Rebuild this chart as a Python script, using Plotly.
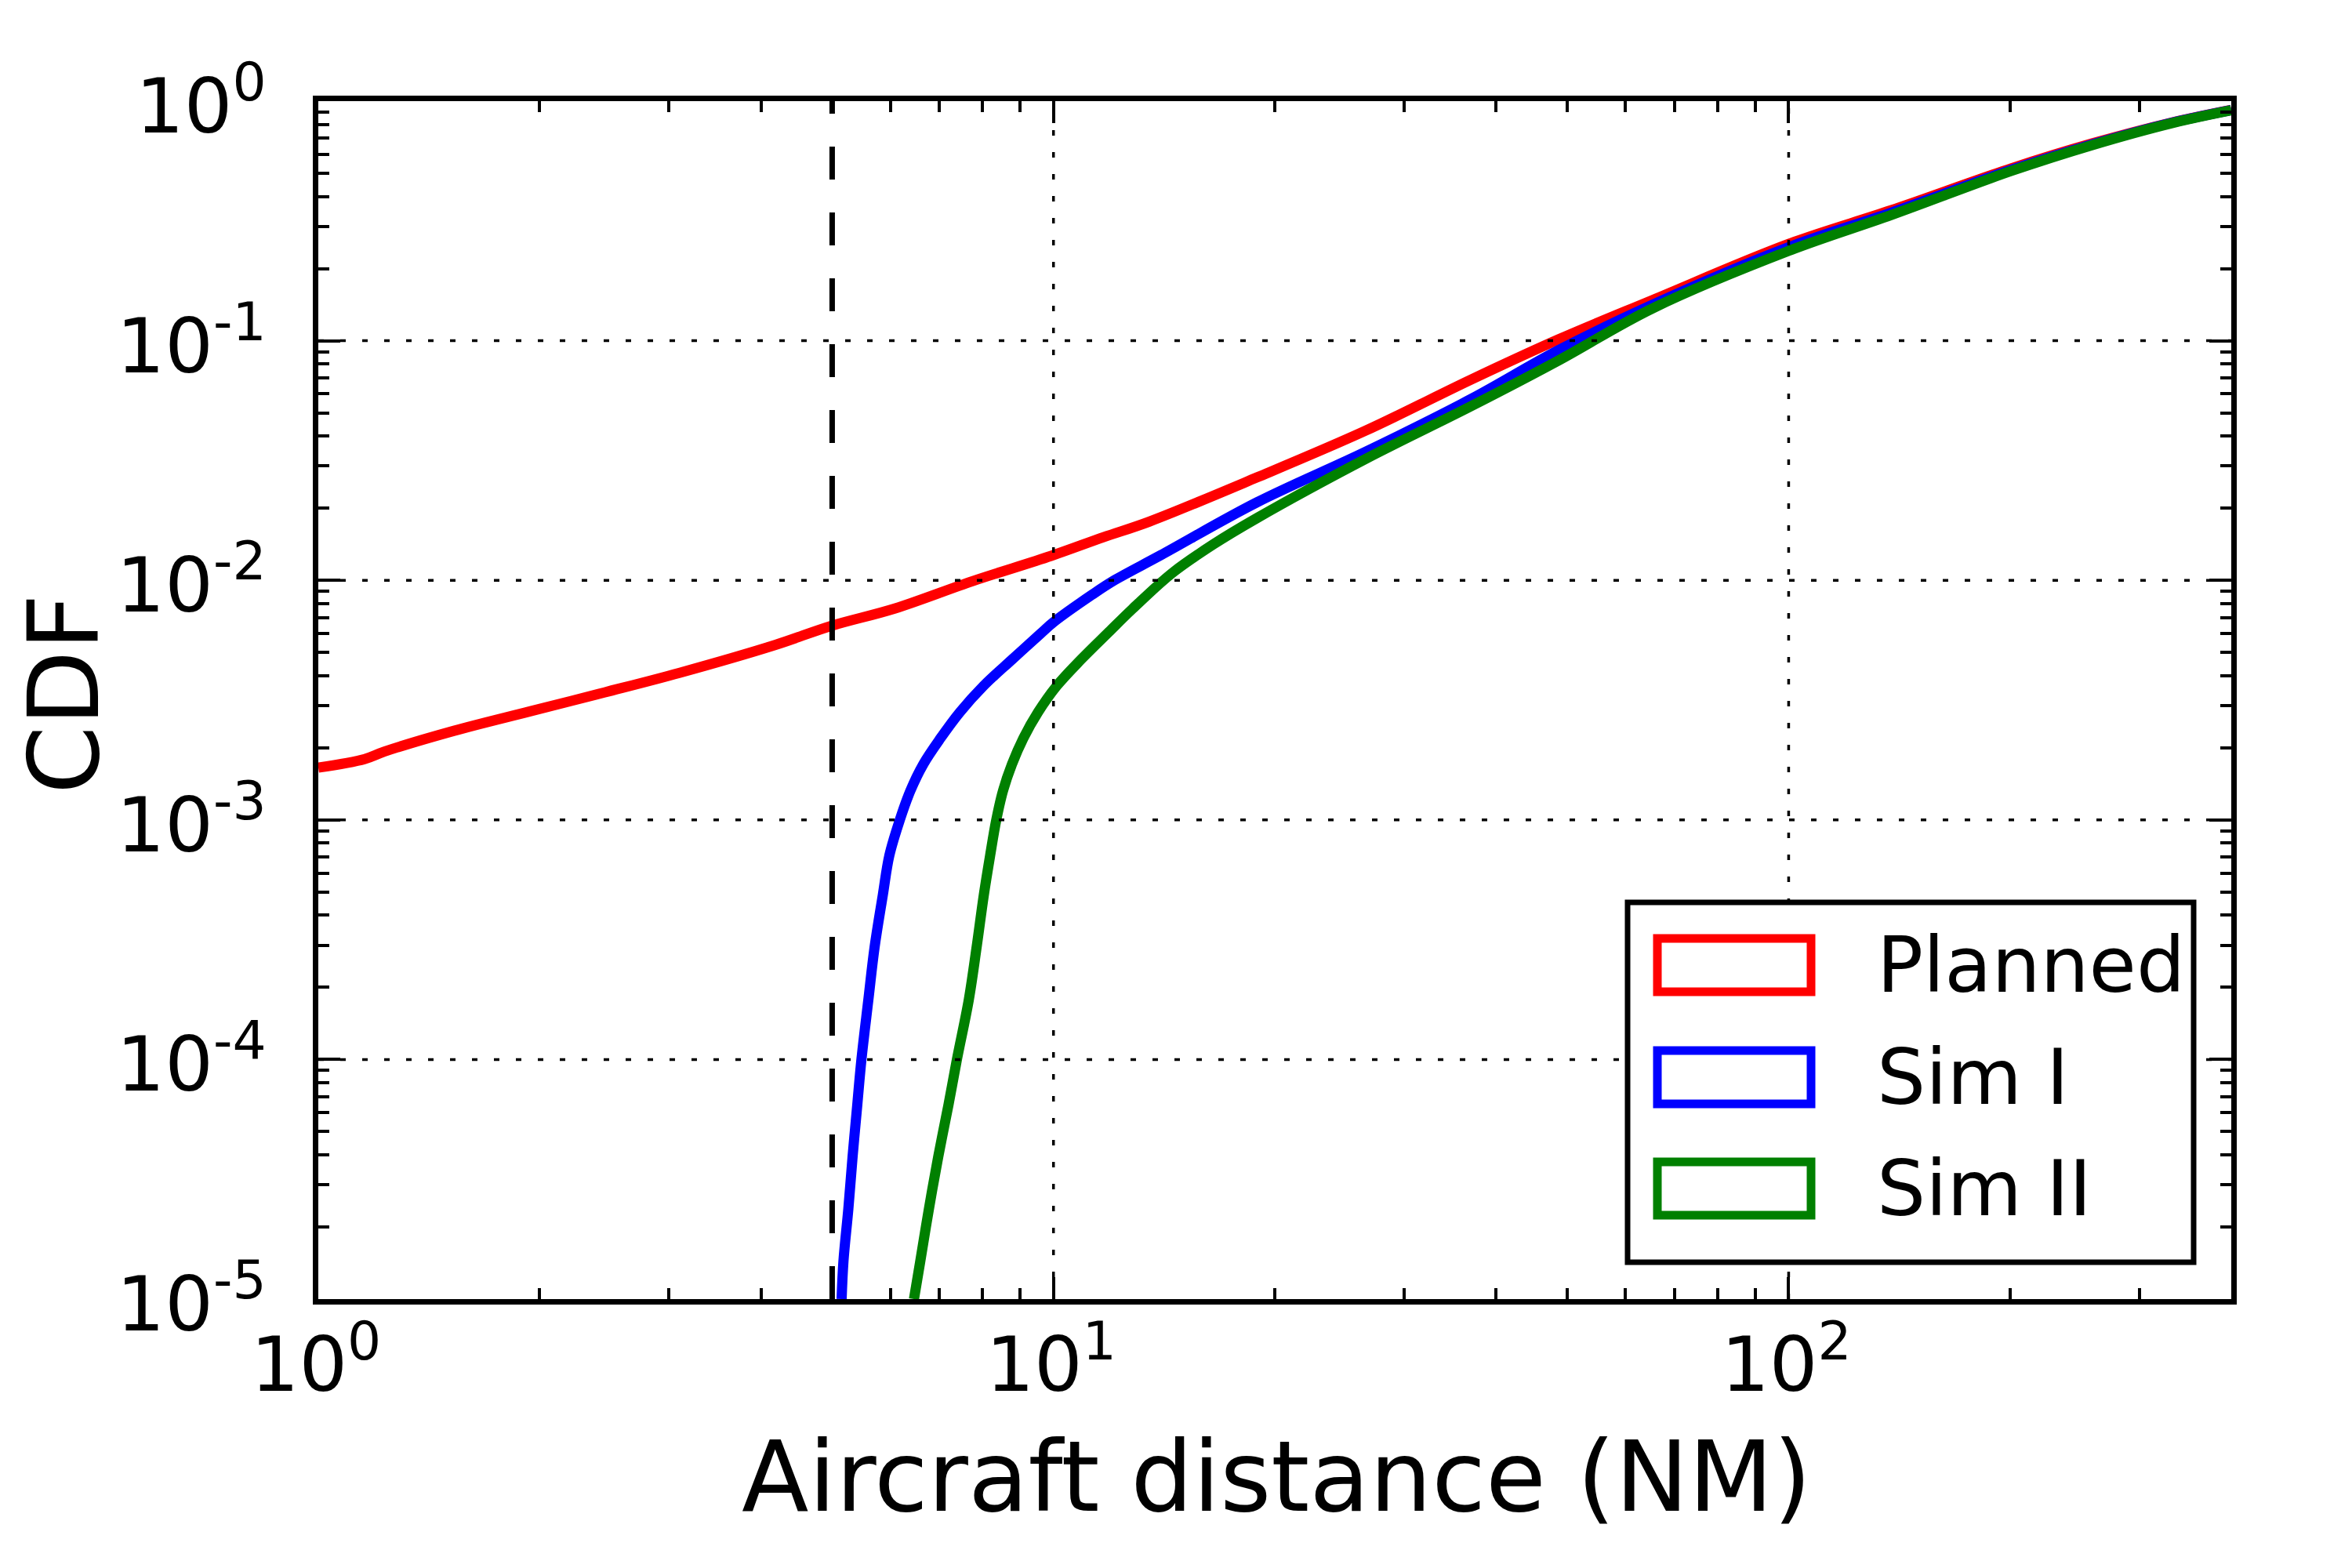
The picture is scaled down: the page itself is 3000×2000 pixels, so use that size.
import math
import plotly.graph_objects as go

# ---------------- data ----------------
planned_x = [1.0, 1.156, 1.23, 1.53, 1.94, 2.45, 3.10, 4.18, 4.99, 6.08, 7.77, 9.93,
             11.7, 13.5, 18.9, 26.6, 37.0, 48.6, 65.3, 100, 138, 201, 259, 332, 400]
planned_y = [0.001652, 0.001795, 0.001928, 0.002355, 0.002838, 0.003404, 0.004111,
             0.005370, 0.006457, 0.007621, 0.009931, 0.01265, 0.01514, 0.01758,
             0.02685, 0.04217, 0.06887, 0.1012, 0.1479, 0.2535, 0.3508, 0.5248,
             0.6668, 0.8147, 0.9204]

sim1_x = [5.15, 5.18, 5.26, 5.33, 5.41, 5.48, 5.6, 5.71, 5.86, 5.98, 6.18, 6.39, 6.65,
          7.02, 7.46, 8.03, 8.78, 9.6, 10.0, 11.3, 12.1, 14.0, 18.9, 26.6, 37.0,
          48.6, 65.3, 100, 138, 201, 259, 332, 400]
sim1_y = [1.0e-5, 1.442e-5, 2.382e-5, 3.926e-5, 6.501e-5, 1.0e-4, 1.774e-4, 2.938e-4,
          4.864e-4, 7.096e-4, 1.0e-3, 1.327e-3, 1.706e-3, 2.193e-3, 2.818e-3, 3.622e-3,
          4.667e-3, 5.984e-3, 6.683e-3, 8.730e-3, 1.0e-2, 0.01274, 0.02113,
          0.03443, 0.05715, 0.09120, 0.1413, 0.2455, 0.3428, 0.5176, 0.6607, 0.8128,
          0.9183]

sim2_x = [6.46, 6.59, 6.77, 6.97, 7.2, 7.39, 7.67, 7.86, 8.04, 8.2, 8.36, 8.54, 8.78,
          9.1, 9.53, 10.1, 10.9, 11.9, 12.8, 14.5, 16.5, 18.9, 26.6, 37.0, 48.6, 65.3,
          100, 138, 201, 259, 332, 400]
sim2_y = [1.0e-5, 1.442e-5, 2.382e-5, 3.926e-5, 6.501e-5, 1.0e-4, 1.774e-4, 2.938e-4,
          4.864e-4, 7.096e-4, 1.0e-3, 1.327e-3, 1.706e-3, 2.193e-3, 2.818e-3, 3.622e-3,
          4.667e-3, 6.095e-3, 7.586e-3, 0.01072, 0.01413, 0.01816, 0.03214, 0.05333,
          0.08260, 0.1365, 0.2371, 0.3350, 0.5117, 0.6561, 0.8091, 0.9162]

threshold_x = [5, 5]
threshold_y = [1e-5, 1]

series_names = ["Planned", "Sim I", "Sim II"]
series_colors = ["#ff0000", "#0000ff", "#008000"]

x_tick_vals = [1, 10, 100]
x_tick_text = ["10<sup>0</sup>", "10<sup>1</sup>", "10<sup>2</sup>"]
y_tick_vals = [1e-5, 1e-4, 1e-3, 1e-2, 1e-1, 1]
y_tick_text = ["10<sup>-5</sup>", "10<sup>-4</sup>", "10<sup>-3</sup>",
               "10<sup>-2</sup>", "10<sup>-1</sup>", "10<sup>0</sup>"]
x_minor_vals = [m * d for d in (1, 10, 100) for m in range(2, 10) if m * d <= 400]
y_minor_vals = [m * d for d in (1e-5, 1e-4, 1e-3, 1e-2, 1e-1) for m in range(2, 10)]

x_range_log = [0, math.log10(400)]
y_range_log = [-5, 0]

x_label = "Aircraft distance (NM)"
y_label = "CDF"

# ---------------- layout geometry (pixels) ----------------
W, H = 3000, 2000
PL, PR, PT, PB = 398, 2838, 121, 1649
FONT = "DejaVu Sans"
GRID_DASH = "7px,21px"


def px2paper_x(px):
    return (px - PL) / (PR - PL)


def px2paper_y(py):
    return (PB - py) / (PB - PT)


fig = go.Figure()
for xs, ys, name, col in zip([planned_x, sim1_x, sim2_x],
                             [planned_y, sim1_y, sim2_y],
                             series_names, series_colors):
    fig.add_trace(go.Scatter(x=xs, y=ys, mode="lines", name=name,
                             line=dict(color=col, width=13, shape="spline", smoothing=1.0),
                             showlegend=False))

fig.add_trace(go.Scatter(x=threshold_x, y=threshold_y, mode="lines",
                         line=dict(color="black", width=7, dash="42px,42px"),
                         showlegend=False, hoverinfo="skip"))

axis_common = dict(
    type="log", showline=True, linewidth=7, linecolor="black", mirror="ticks",
    ticks="inside", ticklen=28, tickwidth=3.5, tickcolor="black",
    tickmode="array", showgrid=False, zeroline=False, automargin=False,
    tickfont=dict(family=FONT, size=97, color="black"),
)

fig.update_layout(
    width=W, height=H,
    margin=dict(l=PL, r=W - PR, t=PT, b=H - PB, autoexpand=False),
    paper_bgcolor="white", plot_bgcolor="white",
    font=dict(family=FONT, color="black"),
    xaxis=dict(axis_common, range=x_range_log, tickvals=x_tick_vals, ticktext=x_tick_text,
               ticklabelstandoff=-6, ticklabelshift=-3,
               minor=dict(ticks="inside", ticklen=14, tickwidth=3.5, tickcolor="black",
                          tickvals=x_minor_vals, showgrid=False)),
    yaxis=dict(axis_common, range=y_range_log, tickvals=y_tick_vals, ticktext=y_tick_text,
               ticklabelstandoff=40, ticklabelshift=6,
               minor=dict(ticks="inside", ticklen=14, tickwidth=3.5, tickcolor="black",
                          tickvals=y_minor_vals, showgrid=False)),
)

shapes = []
# dotted grid drawn above the curves (as in the reference)
for v in x_tick_vals:
    fx = (math.log10(v) - x_range_log[0]) / (x_range_log[1] - x_range_log[0])
    if 0 < fx < 1:
        shapes.append(dict(type="line", xref="paper", yref="paper", layer="above",
                           x0=fx, x1=fx, y0=0, y1=1,
                           line=dict(color="black", width=3.5, dash=GRID_DASH)))
for v in y_tick_vals:
    fy = (math.log10(v) - y_range_log[0]) / (y_range_log[1] - y_range_log[0])
    if 0 < fy < 1:
        shapes.append(dict(type="line", xref="paper", yref="paper", layer="above",
                           x0=0, x1=1, y0=fy, y1=fy,
                           line=dict(color="black", width=3.5, dash=GRID_DASH)))

annotations = [
    # axis titles
    dict(xref="paper", yref="paper", x=px2paper_x(1620), y=px2paper_y(1875),
         xanchor="center", yanchor="middle", text=x_label, showarrow=False,
         font=dict(family=FONT, size=125, color="black")),
    dict(xref="paper", yref="paper", x=px2paper_x(74), y=px2paper_y(878),
         xanchor="center", yanchor="middle", text=y_label, showarrow=False,
         textangle=-90, font=dict(family=FONT, size=125, color="black")),
]

# ---------------- legend drawn as in the reference (outlined patches) ----------------
shapes.append(dict(type="rect", xref="paper", yref="paper", layer="above",
                   x0=px2paper_x(2068), x1=px2paper_x(2790),
                   y0=px2paper_y(1602), y1=px2paper_y(1143),
                   line=dict(color="black", width=7), fillcolor="white"))
rows_cy = [1223, 1366, 1508]
for name, col, cy in zip(series_names, series_colors, rows_cy):
    shapes.append(dict(type="rect", xref="paper", yref="paper", layer="above",
                       x0=px2paper_x(2106), x1=px2paper_x(2302),
                       y0=px2paper_y(cy + 34), y1=px2paper_y(cy - 34),
                       line=dict(color=col, width=11), fillcolor="rgba(0,0,0,0)"))
    annotations.append(dict(xref="paper", yref="paper", x=px2paper_x(2384),
                            y=px2paper_y(cy), xanchor="left", yanchor="middle",
                            text=name, showarrow=False,
                            font=dict(family=FONT, size=98, color="black")))
fig.update_layout(shapes=shapes, annotations=annotations)

fig.write_html("out.html")
